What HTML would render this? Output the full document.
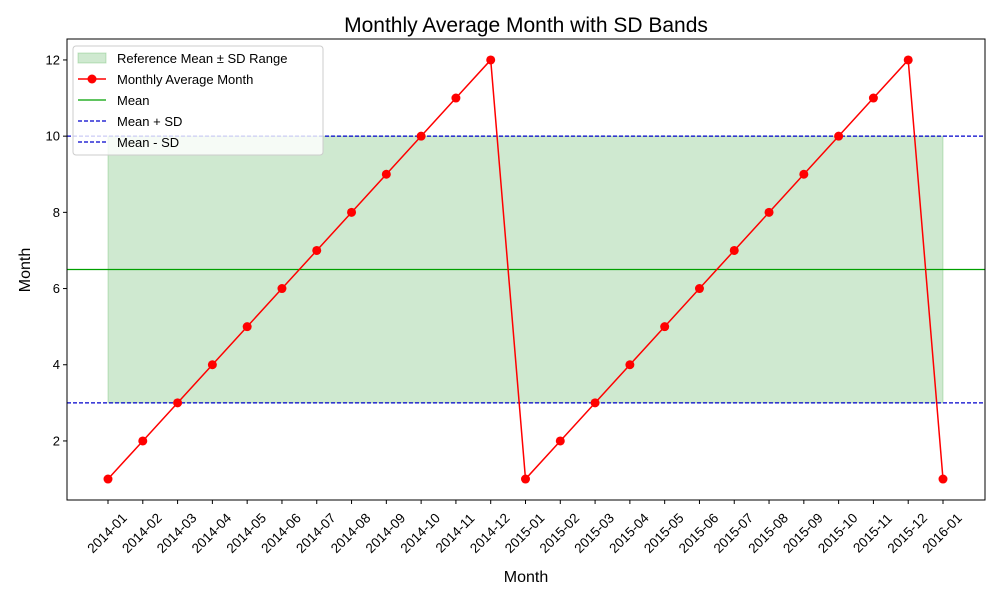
<!DOCTYPE html>
<html><head><meta charset="utf-8"><style>
body{margin:0;background:#fff;}
svg{display:block;font-family:"Liberation Sans","DejaVu Sans",sans-serif;}
</style></head><body>
<svg id="chart" width="1000" height="600">
<rect width="1000" height="600" fill="#fff"/>
<text x="526" y="32" text-anchor="middle" font-size="21">Monthly Average Month with SD Bands</text>
<g id="plot"></g>
<text x="526" y="582" text-anchor="middle" font-size="16">Month</text>
<text transform="translate(30,270) rotate(-90)" text-anchor="middle" font-size="16">Month</text>
</svg>
<script>
const categories=["2014-01","2014-02","2014-03","2014-04","2014-05","2014-06","2014-07","2014-08","2014-09","2014-10","2014-11","2014-12","2015-01","2015-02","2015-03","2015-04","2015-05","2015-06","2015-07","2015-08","2015-09","2015-10","2015-11","2015-12","2016-01"];
const values=[1,2,3,4,5,6,7,8,9,10,11,12,1,2,3,4,5,6,7,8,9,10,11,12,1];
const meanValue=6.5;
const sdValue=3.5;
const yTicks=[2,4,6,8,10,12];

const NS="http://www.w3.org/2000/svg";
const L=67,R=985,T=39,B=500;
const yMin=0.45,yMax=12.55;
const x0=108,x1=943;
function xs(i){return x0+(x1-x0)*i/(categories.length-1);}
function ys(v){return B-(v-yMin)/(yMax-yMin)*(B-T);}
const g=document.getElementById('plot');
function mk(tag,attrs,parent){const e=document.createElementNS(NS,tag);for(const k in attrs)e.setAttribute(k,attrs[k]);(parent||g).appendChild(e);return e;}

let band=mk('rect',{x:x0,y:ys(meanValue+sdValue),width:x1-x0,height:ys(meanValue-sdValue)-ys(meanValue+sdValue),fill:'#4caf50','fill-opacity':0.27,stroke:'#4caf50','stroke-opacity':0.3});



let ml=mk('line',{x1:L,x2:R,y1:ys(meanValue),y2:ys(meanValue),stroke:'#00a000','stroke-width':1.2});


let up=mk('line',{x1:L,x2:R,y1:ys(meanValue+sdValue),y2:ys(meanValue+sdValue),stroke:'#0000cc','stroke-width':1.2,'stroke-dasharray':'4,2'});


let lo=mk('line',{x1:L,x2:R,y1:ys(meanValue-sdValue),y2:ys(meanValue-sdValue),stroke:'#0000cc','stroke-width':1.2,'stroke-dasharray':'4,2'});



let pts=values.map((v,i)=>xs(i)+','+ys(v)).join(' ');
let pl=mk('polyline',{points:pts,fill:'none',stroke:'#ff0000','stroke-width':1.5});


values.forEach((v,i)=>{
  let c=mk('circle',{cx:xs(i),cy:ys(v),r:4.5,fill:'#ff0000'});
  
  
});

let frame=mk('rect',{x:L,y:T,width:R-L,height:B-T,fill:'none',stroke:'#000','stroke-width':1});



yTicks.forEach(t=>{
  let y=ys(t);
  let tl=mk('line',{x1:L-4,x2:L,y1:y,y2:y,stroke:'#000'});
  
  
  let tx=mk('text',{x:L-7,y:y+4.5,'text-anchor':'end','font-size':13});
  tx.textContent=t;
  
  
});
categories.forEach((c,i)=>{
  let x=xs(i);
  let tl=mk('line',{x1:x,x2:x,y1:B,y2:B+4,stroke:'#000'});
  
  
  let tx=mk('text',{transform:`translate(${x-1},${B+33}) rotate(-45)`,'text-anchor':'middle','font-size':13.5,dy:'0.35em'});
  tx.textContent=c;
  
  
});

const lg=mk('g',{});


mk('rect',{x:73,y:46,width:250,height:109,rx:3,fill:'#fff','fill-opacity':0.8,stroke:'#ccc'},lg);
mk('rect',{x:78,y:53,width:28,height:10,fill:'#4caf50','fill-opacity':0.27,stroke:'#4caf50','stroke-opacity':0.3},lg);
mk('line',{x1:78,x2:106,y1:79,y2:79,stroke:'#f00','stroke-width':1.5},lg);
mk('circle',{cx:92,cy:79,r:4.5,fill:'#f00'},lg);
mk('line',{x1:78,x2:106,y1:100,y2:100,stroke:'#00a000','stroke-width':1.2},lg);
mk('line',{x1:78,x2:106,y1:121,y2:121,stroke:'#0000cc','stroke-width':1.2,'stroke-dasharray':'4,2'},lg);
mk('line',{x1:78,x2:106,y1:142,y2:142,stroke:'#0000cc','stroke-width':1.2,'stroke-dasharray':'4,2'},lg);
["Reference Mean ± SD Range","Monthly Average Month","Mean","Mean + SD","Mean - SD"].forEach((s,i)=>{
  let t=mk('text',{x:117,y:63+i*21,'font-size':13},lg);
  t.textContent=s;
  
  
});
</script>
</body></html>
